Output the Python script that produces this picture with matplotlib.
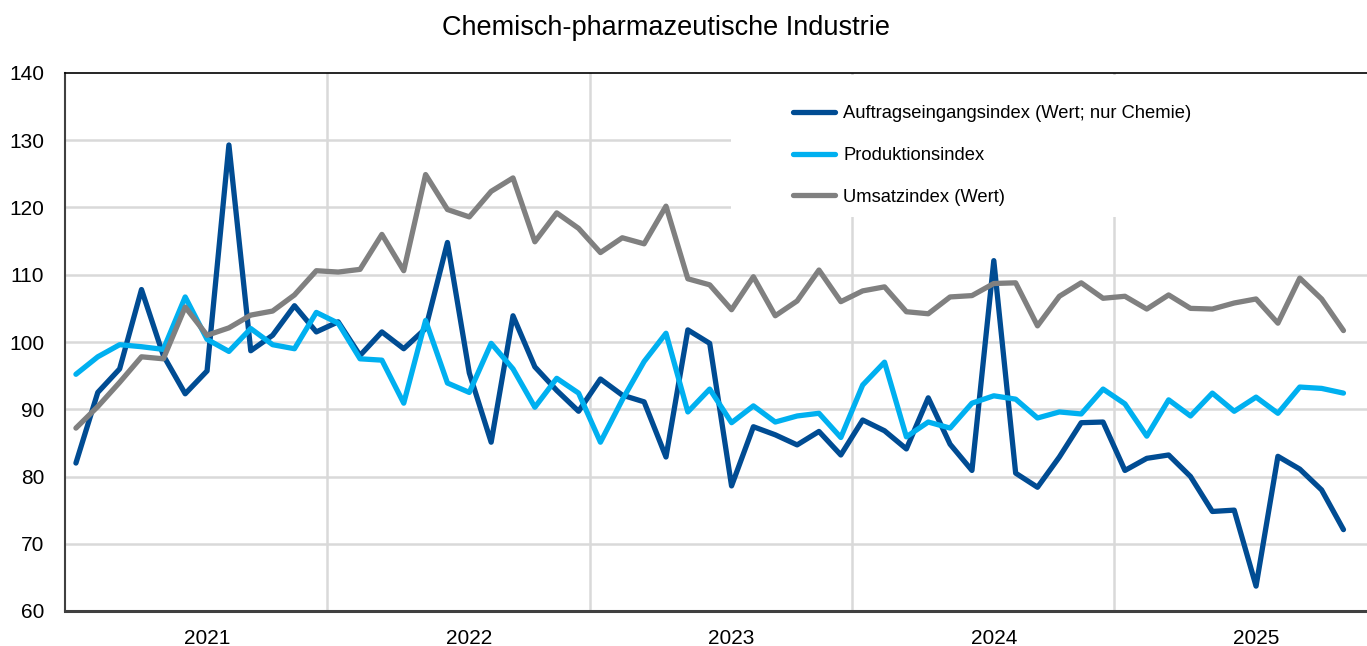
import matplotlib
matplotlib.use("Agg")
import matplotlib.pyplot as plt
from matplotlib.patches import Rectangle

plt.rcParams['font.family'] = ['Liberation Sans', 'DejaVu Sans']

title = "Chemisch-pharmazeutische Industrie"
years = ["2021", "2022", "2023", "2024", "2025"]
labels = ["Auftragseingangsindex (Wert; nur Chemie)", "Produktionsindex", "Umsatzindex (Wert)"]

# monthly values, Jan 2021 .. Nov 2025
auftrag = [82.0, 92.5, 96.0, 107.8, 98.0, 92.3, 95.7, 129.3, 98.7, 101.0, 105.4, 101.5,
           103.0, 98.0, 101.5, 99.0, 102.0, 114.8, 95.4, 85.1, 103.9, 96.3, 92.8, 89.7,
           94.5, 92.1, 91.1, 82.9, 101.8, 99.8, 78.6, 87.4, 86.2, 84.7, 86.7, 83.2,
           88.4, 86.8, 84.1, 91.7, 84.8, 80.9, 112.1, 80.5, 78.4, 82.9, 88.0, 88.1,
           80.9, 82.7, 83.2, 80.0, 74.8, 75.0, 63.7, 83.0, 81.1, 78.0, 72.1]
produktion = [95.2, 97.8, 99.6, 99.3, 98.9, 106.7, 100.4, 98.6, 102.0, 99.6, 99.0, 104.4,
              102.8, 97.5, 97.3, 90.9, 103.2, 93.9, 92.5, 99.8, 96.0, 90.3, 94.6, 92.4,
              85.1, 91.4, 97.1, 101.3, 89.6, 93.0, 88.0, 90.5, 88.1, 89.0, 89.4, 85.8,
              93.6, 97.0, 85.9, 88.1, 87.2, 90.9, 92.0, 91.5, 88.7, 89.6, 89.3, 93.0,
              90.8, 86.0, 91.4, 89.0, 92.4, 89.7, 91.8, 89.4, 93.3, 93.1, 92.4]
umsatz = [87.2, 90.4, 94.0, 97.8, 97.5, 105.2, 101.0, 102.1, 104.0, 104.6, 107.0, 110.6,
          110.4, 110.8, 116.0, 110.6, 124.9, 119.7, 118.6, 122.4, 124.4, 114.9, 119.2, 116.9,
          113.3, 115.5, 114.6, 120.2, 109.4, 108.5, 104.8, 109.7, 103.9, 106.1, 110.7, 106.0,
          107.6, 108.2, 104.5, 104.2, 106.7, 106.9, 108.7, 108.8, 102.4, 106.8, 108.8, 106.5,
          106.8, 104.9, 107.0, 105.0, 104.9, 105.8, 106.4, 102.8, 109.5, 106.4, 101.7]

colors = ["#004C93", "#00B0F0", "#808080"]

W, H = 1367, 646
fig = plt.figure(figsize=(W / 100, H / 100), dpi=100)
ax_left, ax_right, ax_top, ax_bot = 65, 1367, 73, 611
ax = fig.add_axes([ax_left / W, (H - ax_bot) / H, (ax_right - ax_left) / W, (ax_bot - ax_top) / H])

x = list(range(len(auftrag)))
for series, c, lab in zip([auftrag, produktion, umsatz], colors, labels):
    ax.plot(x, series, color=c, lw=3.8, label=lab, solid_joinstyle='round',
            solid_capstyle='round', zorder=3)

month_px = 262.25 / 12
ax.set_xlim(-0.5, -0.5 + (ax_right - ax_left) / month_px)
ax.set_ylim(60, 140)
ax.set_yticks(range(60, 141, 10))
ax.set_xticks([6 + 12 * i for i in range(len(years))])
ax.set_xticklabels(years)
ax.tick_params(axis='both', length=0, labelsize=15)
ax.tick_params(axis='x', pad=13)
ax.tick_params(axis='y', pad=15)

for v in range(70, 140, 10):
    ax.axhline(v, color="#D9D9D9", lw=1.8, zorder=1)
for i in range(1, len(years)):
    ax.axvline(12 * i - 0.5, color="#D9D9D9", lw=1.8, zorder=1)

# white legend background
lx0 = (731 - ax_left) / (ax_right - ax_left)
ly0 = (ax_bot - 217) / (ax_bot - ax_top)
ly1 = (ax_bot - 75) / (ax_bot - ax_top)
ax.add_patch(Rectangle((lx0, ly0), 1.2 - lx0, ly1 - ly0, transform=ax.transAxes,
                       facecolor='white', edgecolor='none', zorder=2, clip_on=False))

leg = ax.legend(loc='upper left', bbox_to_anchor=((793 - ax_left) / (ax_right - ax_left),
                                                   (ax_bot - 105) / (ax_bot - ax_top)),
                frameon=False, fontsize=13.2, handlelength=2.3,
                handletextpad=0.44, labelspacing=1.36, borderpad=0, borderaxespad=0)
for line in leg.get_lines():
    line.set_linewidth(3.8)
    line.set_solid_capstyle('round')

for s in ['left', 'bottom']:
    ax.spines[s].set_color('#404040')
ax.spines['left'].set_linewidth(1.5)
ax.spines['bottom'].set_linewidth(2.2)
ax.spines['top'].set_color('#000000')
ax.spines['top'].set_linewidth(1.2)
ax.spines['right'].set_visible(False)

fig.text(666 / W, 1 - 28 / H, title, ha='center', va='center', fontsize=19.5)

fig.savefig("out.png", dpi=100)
